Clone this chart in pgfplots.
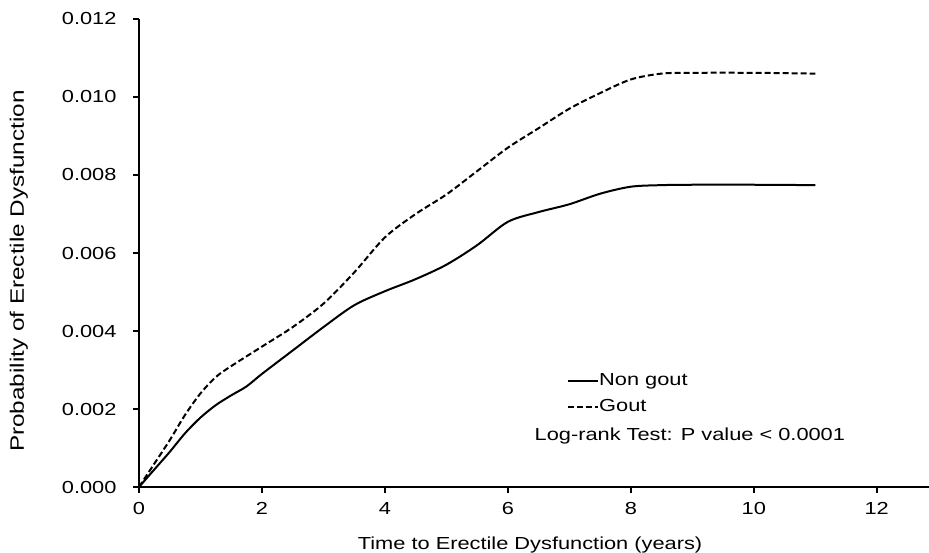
\documentclass[border=0pt]{standalone}
\usepackage{fontspec}
\setmainfont{Liberation Sans}[FakeStretch=1.25]
\usepackage{pgfplots}
\pgfplotsset{compat=1.18}
\begin{document}
\begin{tikzpicture}
\path[use as bounding box] (-139bp,-66bp) rectangle (790bp,487bp);
\begin{axis}[
  scale only axis,
  width=790bp, height=468bp,
  at={(0,0)}, anchor=south west,
  xmin=0, xmax=12.85, ymin=0, ymax=0.012,
  axis lines=left,
  axis line style={-, line width=2bp},
  every tick/.style={black, line width=2bp},
  major tick length=6bp,
  tick align=outside,
  xtick={0,2,4,6,8,10,12},
  ytick={0,0.002,0.004,0.006,0.008,0.010,0.012},
  scaled y ticks=false,
  yticklabel style={/pgf/number format/fixed, /pgf/number format/fixed zerofill, /pgf/number format/precision=3, xshift=-13bp},
  /pgf/number format/assume math mode=true,
  tick label style={font=\fontsize{17.5}{20}\selectfont},
  xticklabel style={yshift=-6bp},
  xlabel={Time to Erectile Dysfunction (years)},
  ylabel={Probability of Erectile Dysfunction},
  xlabel style={font=\fontsize{17.5}{20}\selectfont, at={(axis description cs:0.495,0)}, anchor=base, yshift=-62bp},
  ylabel style={font=\fontsize{19.5}{22}\selectfont, at={([xshift=-115bp]axis description cs:0,0.4615)}, anchor=base, rotate=0},
  legend style={draw=none, fill=none, at={(axis description cs:0.5418,0.2436)}, anchor=north west, inner sep=0pt,
    nodes={inner sep=0pt, text height=12bp, text depth=4bp, font=\fontsize{17.5}{20}\selectfont}, row sep=10bp},
  legend cell align=left,
  legend image code/.code={\draw[#1] (0bp,0bp) -- (30bp,0bp);},
  /tikz/every even column/.append style={column sep=0pt},
]
\addplot[black, line width=2bp, smooth, tension=0.5] coordinates {
(0,0) (0.25,0.00045) (0.5,0.0009) (0.75,0.00138) (1.0,0.00178) (1.25,0.0021) (1.5,0.00235) (1.75,0.00258)
(2.0,0.0029) (2.5,0.0035) (3.0,0.0041) (3.5,0.00466) (4.0,0.00502) (4.5,0.00533) (5.0,0.0057) (5.5,0.0062)
(6.0,0.0068) (6.5,0.00705) (7.0,0.00725) (7.5,0.00752) (8.0,0.0077) (8.5,0.00774) (9,0.00775) (10,0.00775) (11,0.00774)
};
\addlegendentry{Non gout}
\addplot[black, line width=2bp, dash pattern=on 6bp off 3bp, smooth, tension=0.5] coordinates {
(0,0) (0.25,0.0006) (0.5,0.0012) (0.75,0.00185) (1.0,0.0024) (1.25,0.00282) (1.5,0.0031) (2.0,0.0036)
(2.5,0.0041) (3.0,0.0047) (3.5,0.0055) (4.0,0.0064) (4.5,0.0070) (5.0,0.0075) (5.5,0.0081) (6.0,0.0087)
(6.5,0.0092) (7.0,0.0097) (7.5,0.0101) (8.0,0.01045) (8.5,0.0106) (9,0.01062) (10,0.01062) (11,0.0106)
};
\addlegendentry{Gout}
\node[font=\fontsize{17.5}{20}\selectfont, anchor=center] at (axis cs:8.96,0.00131) {Log-rank Test: P value < 0.0001};
\end{axis}
\end{tikzpicture}
\end{document}
